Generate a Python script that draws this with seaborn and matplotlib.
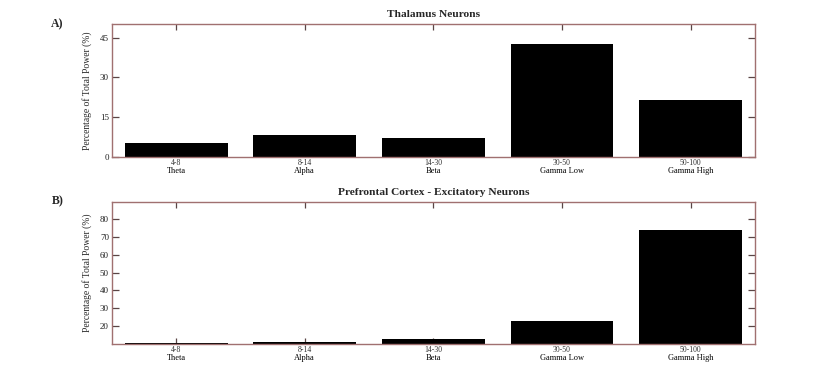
import pandas as pd
import seaborn as sns
import matplotlib.pyplot as plt

# Frequency bands and the share of total power for each region
bands = ['Theta', 'Alpha', 'Beta', 'Gamma Low', 'Gamma High']
ranges = ['4-8', '8-14', '14-30', '30-50', '50-100']
thalamus = [5.0, 8.1, 6.9, 42.5, 21.6]
prefrontal = [10.6, 10.9, 12.6, 22.8, 74.2]

SPINE = '#a07070'
TICK = '#5a4545'

sns.set_style('ticks')
plt.rcParams['font.family'] = ['Liberation Serif', 'DejaVu Serif']


def draw_panel(ax, values, title, letter, ylim, yticks):
    df = pd.DataFrame({'band': bands, 'value': values})
    sns.barplot(data=df, x='band', y='value', color='black', saturation=1,
                width=0.8, edgecolor='none', ax=ax)
    ax.set_xlim(-0.5, len(bands) - 0.5)
    ax.set_ylim(*ylim)
    ax.set_yticks(yticks)
    ax.set_xlabel('')
    ax.set_ylabel('Percentage of Total Power (%)', fontsize=6.9, labelpad=6)
    ax.set_title(title, fontsize=8.2, fontweight='bold', pad=5)

    for side in ax.spines.values():
        side.set_visible(True)
        side.set_color(SPINE)
        side.set_linewidth(1.0)
    ax.tick_params(axis='both', direction='in', color=TICK, top=True,
                   right=True, labelsize=6.5, width=0.9, labelcolor='#222222')
    ax.tick_params(axis='x', length=4.5, labelbottom=False)
    ax.tick_params(axis='y', length=5, pad=2)

    # two-line category labels: frequency range, then band name
    for i, (rng, name) in enumerate(zip(ranges, bands)):
        ax.annotate(rng, (i, 0), xycoords=('data', 'axes fraction'),
                    xytext=(0, -1.5), textcoords='offset points',
                    ha='center', va='top', fontsize=5.6, color='#333333')
        ax.annotate(name, (i, 0), xycoords=('data', 'axes fraction'),
                    xytext=(0, -7.3), textcoords='offset points',
                    ha='center', va='top', fontsize=6.0, color='black')

    ax.text(-0.075, 1.0, letter, transform=ax.transAxes, ha='right',
            va='center', fontsize=8.5, fontweight='bold')


fig = plt.figure(figsize=(8.3, 3.89), dpi=100)
ax_a = fig.add_axes([0.1346, 0.5972, 0.775, 0.3403])
ax_b = fig.add_axes([0.1346, 0.1165, 0.775, 0.365])

draw_panel(ax_a, thalamus, 'Thalamus Neurons', 'A)', (0, 50), [0, 15, 30, 45])
draw_panel(ax_b, prefrontal, 'Prefrontal Cortex - Excitatory Neurons', 'B)',
           (10, 90), [20, 30, 40, 50, 60, 70, 80])

fig.savefig('out.png', dpi=100)
